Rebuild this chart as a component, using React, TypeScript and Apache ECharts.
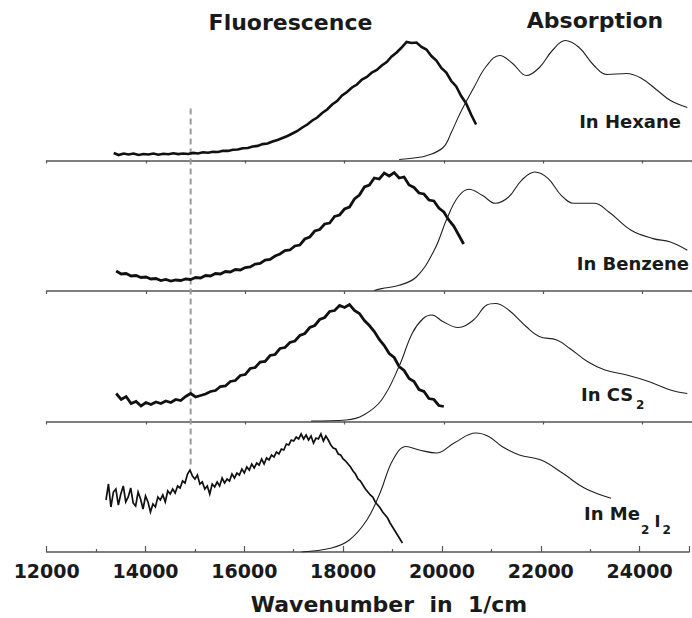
import React, { useEffect, useRef } from "react";
import * as echarts from "echarts";

// ---------- axis ----------
const xMin = 12000;
const xMax = 25000;
const tickLabels = [12000, 14000, 16000, 18000, 20000, 22000, 24000];
const axisName = "Wavenumber  in  1/cm";
const dashedAt = 14900;

const panelNames = ["In Hexane", "In Benzene", "In CS", "In Me"];

// ---------- fluorescence (noisy), evenly sampled ----------
const hexaneFluoStart = 13350;
const hexaneFluoStep = 100;
const hexaneFluo = [
  7.5, 5.5, 7, 6, 7, 5.5, 6.5, 6, 7, 5.8,
  6.8, 6.2, 7.2, 6.4, 7, 6.5, 7.6, 7, 8.2, 7.8,
  8.8, 8.5, 9.8, 9.6, 10.8, 11, 12.2, 12.5, 14, 14.6,
  16.4, 17, 19, 20.5, 22.5, 24.5, 27, 29.5, 33, 36,
  40, 43, 47.5, 51, 56, 59.5, 65, 68.5, 73, 76,
  81, 83.5, 88, 90.5, 95, 98.5, 104, 108, 113, 118.5,
  117.5, 118, 113.5, 111, 104.5, 100, 92.5, 88, 79.5, 74,
  64.5, 57, 46, 36,
];

const benzeneFluoStart = 13400;
const benzeneFluoStep = 100;
const benzeneFluo = [
  20, 17, 17.5, 15, 15.5, 13.5, 14, 12, 12.5, 10.5,
  11.5, 10, 11, 10.5, 12, 11.5, 13.5, 13, 15.5, 15,
  17.5, 17, 19.5, 19, 21.5, 21, 23.5, 24, 27, 27.5,
  31, 31.5, 35, 37, 40.5, 41, 45, 46, 52, 54,
  60, 61.5, 67, 68, 74.5, 76, 82, 84, 92, 96,
  104, 106, 113, 112, 118, 115, 118.5, 113, 114, 106,
  103.5, 98, 97, 91, 90, 83, 79, 71, 65, 56,
  47,
];

const cs2FluoStart = 13400;
const cs2FluoStep = 100;
const cs2Fluo = [
  28, 22, 25, 18, 20, 15.5, 19, 17, 19.5, 18,
  20.5, 19, 22, 21, 25, 28, 24.5, 26, 27.5, 30,
  31, 35, 35.5, 40, 41, 46, 47, 53, 54, 59.5,
  60, 66, 67, 73, 74, 79, 80.5, 86, 88, 94,
  96, 102, 104, 110, 111, 116, 114, 117, 111, 108,
  101, 96, 90, 82, 76, 68, 64, 55, 51, 43,
  40, 32, 30, 23, 22, 16, 15,
];

const me2i2FluoStart = 13200;
const me2i2FluoStep = 50;
const me2i2Fluo = [
  52, 68, 45, 60, 63, 47, 58, 66, 50, 55, 64, 49, 46, 60, 53, 43, 56, 50, 40, 48,
  45, 55, 52, 57, 50, 61, 58, 63, 59, 66, 64, 71, 69, 78, 82, 76, 73, 77, 68, 70,
  63, 66, 58, 68, 65, 70, 66, 74, 69, 73, 71, 78, 74, 79, 77, 83, 79, 85, 82, 88,
  84, 89, 87, 93, 88, 94, 92, 97, 95, 100, 98, 103, 102, 108, 107, 112, 111, 115, 113, 118,
  113, 117, 112, 116, 109, 114, 113, 118, 111, 116, 112, 107, 104, 103, 98, 97, 93, 91, 88, 85,
  81, 78, 73, 71, 67, 63, 60, 57, 55, 50, 47, 44, 40, 37, 34, 29, 25, 21, 17, 13,
  9,
];

// ---------- absorption (smooth): [wavenumber, intensity] ----------
const hexaneAbs = [
  [19100, 1], [19400, 2.5], [19666, 5], [19986, 13], [20156, 28.5], [20326, 47],
  [20606, 73], [20866, 95], [21126, 105], [21386, 97], [21666, 85], [21926, 93],
  [22186, 110], [22446, 120], [22726, 113], [23026, 95], [23286, 86], [23686, 87],
  [23986, 82], [24306, 70], [24566, 60], [24906, 53],
];
const benzeneAbs = [
  [18600, 0.5], [18746, 2.4], [19098, 5.7], [19446, 14], [19806, 40.7], [20066, 72.7],
  [20286, 94], [20506, 101.7], [20774, 95.7], [21040, 87.7], [21306, 94], [21566, 110.7],
  [21834, 119], [22098, 112.7], [22366, 95.7], [22626, 87.7], [23026, 87.7], [23326, 79],
  [23776, 60.7], [24216, 52.4], [24566, 49], [24906, 40.7],
];
const cs2Abs = [
  [17326, 0.5], [18038, 1.5], [18386, 6.5], [18746, 21.5], [19098, 55], [19362, 88],
  [19584, 103], [19760, 106.5], [19980, 100], [20286, 94], [20598, 101.5], [20866, 116.5],
  [21040, 118], [21306, 111.5], [21658, 95], [21922, 85], [22276, 81.5], [22540, 73],
  [22892, 60], [23246, 51.5], [23686, 46.5], [24126, 40], [24566, 31.5], [24906, 28],
];
const me2i2Abs = [
  [17156, 0], [17766, 4], [18126, 12], [18480, 32], [18746, 59], [19006, 92],
  [19274, 105.5], [19538, 102], [19886, 99], [20246, 109], [20686, 119], [20946, 115.5],
  [21216, 105.5], [21566, 97], [22006, 92], [22446, 78.7], [22892, 63.7], [23422, 53.7],
];

// dashed reference line extent (overlay scale, 0 = bottom axis)
const dashedExtent = [87.5, 447.5];

const toPairs = (start: number, step: number, vals: number[]) =>
  vals.map((v, i) => [start + i * step, v]);

const FONT = "DejaVu Sans";

export default function App() {
  const ref = useRef<HTMLDivElement>(null);

  useEffect(() => {
    if (!ref.current) return;
    const chart = echarts.init(ref.current, undefined, { renderer: "svg" });

    const left = 46.7;
    const width = 650;
    const panelH = 130.5;
    const firstTop = 30;
    const fluo = [
      toPairs(hexaneFluoStart, hexaneFluoStep, hexaneFluo),
      toPairs(benzeneFluoStart, benzeneFluoStep, benzeneFluo),
      toPairs(cs2FluoStart, cs2FluoStep, cs2Fluo),
      toPairs(me2i2FluoStart, me2i2FluoStep, me2i2Fluo),
    ];
    const fluoWidth = [2.6, 2.8, 2.8, 1.7];
    const abs = [hexaneAbs, benzeneAbs, cs2Abs, me2i2Abs];

    const grids: any[] = [];
    const xAxes: any[] = [];
    const yAxes: any[] = [];
    const series: any[] = [];
    for (let i = 0; i < 4; i++) {
      grids.push({ left, width, top: firstTop + i * panelH, height: panelH });
      const isBottom = i === 3;
      xAxes.push({
        gridIndex: i,
        type: "value",
        min: xMin,
        max: xMax,
        interval: 2000,
        axisLine: { show: true, lineStyle: { color: "#555", width: 1.6 } },
        axisTick: {
          show: true,
          inside: isBottom,
          length: isBottom ? 6 : 3,
          lineStyle: { color: "#555", width: 1.2 },
        },
        minorTick: isBottom
          ? { show: true, splitNumber: 2, length: 3, lineStyle: { color: "#555", width: 1.2 } }
          : { show: false },
        axisLabel: isBottom
          ? {
              show: true,
              margin: 9,
              fontFamily: FONT,
              fontWeight: "bold",
              fontSize: 19,
              color: "#1a1a1a",
              formatter: (v: number) => (tickLabels.includes(v) ? String(v) : ""),
            }
          : { show: false },
        splitLine: { show: false },
      });
      yAxes.push({ gridIndex: i, type: "value", min: 0, max: panelH, show: false });
      series.push({
        type: "line",
        xAxisIndex: i,
        yAxisIndex: i,
        data: fluo[i],
        symbol: "none",
        lineStyle: { color: "#111", width: fluoWidth[i], join: "miter" },
        z: 3,
      });
      series.push({
        type: "line",
        xAxisIndex: i,
        yAxisIndex: i,
        data: abs[i],
        symbol: "none",
        smooth: 0.4,
        lineStyle: { color: "#222", width: 1.1 },
        z: 3,
      });
    }
    // overlay for dashed line
    grids.push({ left, width, top: firstTop, height: panelH * 4 });
    xAxes.push({ gridIndex: 4, type: "value", min: xMin, max: xMax, show: false });
    yAxes.push({ gridIndex: 4, type: "value", min: 0, max: panelH * 4, show: false });
    series.push({
      type: "line",
      xAxisIndex: 4,
      yAxisIndex: 4,
      data: [
        [dashedAt, dashedExtent[0]],
        [dashedAt, dashedExtent[1]],
      ],
      symbol: "none",
      lineStyle: { color: "#9a9a9a", width: 2, type: [6, 4] },
      z: 2,
    });

    const txt = (text: string, x: number, y: number, size: number, align: string) => ({
      type: "text",
      x,
      y,
      style: {
        text,
        fontFamily: FONT,
        fontWeight: "bold",
        fontSize: size,
        fill: "#1a1a1a",
        textAlign: align,
        textVerticalAlign: "middle",
      },
    });

    chart.setOption({
      animation: false,
      backgroundColor: "#fff",
      grid: grids,
      xAxis: xAxes,
      yAxis: yAxes,
      series,
      graphic: [
        txt("Fluorescence", 290.5, 22, 22, "center"),
        txt("Absorption", 595, 20, 22, "center"),
        txt(axisName, 389, 604, 22, "center"),
        txt(panelNames[0], 681, 121.5, 18, "right"),
        txt(panelNames[1], 689, 263.5, 18, "right"),
        txt(panelNames[2], 581, 394.5, 18, "left"),
        txt("2", 636, 405, 12, "left"),
        txt(panelNames[3], 584, 513.5, 18, "left"),
        txt("2", 641, 530, 12, "left"),
        txt("I", 654.5, 521, 16, "left"),
        txt("2", 662.5, 530, 12, "left"),
      ],
    });
    return () => chart.dispose();
  }, []);

  return (
    <div
      ref={ref}
      style={{ position: "fixed", left: 0, top: 0, width: 692, height: 618 }}
    />
  );
}
